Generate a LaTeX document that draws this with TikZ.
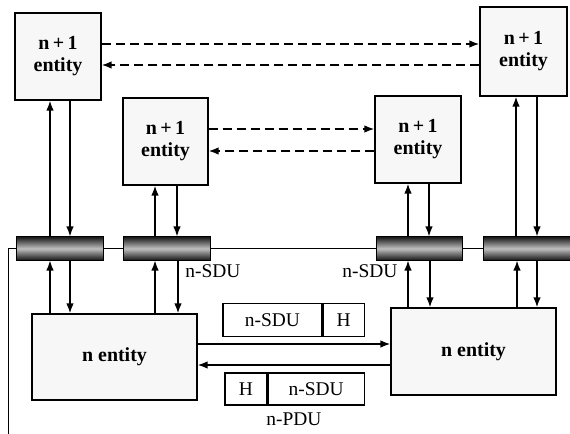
\documentclass[tikz,border=0pt]{standalone}
\usepackage{fontspec}
\setmainfont{Liberation Serif}
\usetikzlibrary{arrows.meta,calc}
\begin{document}
\begin{tikzpicture}[x=1bp,y=-1bp,
  ent/.style={draw=black,line width=1.2bp,fill=gray!6,inner sep=0pt,align=center,
    font=\fontsize{20}{22}\selectfont\bfseries},
  sap/.style={draw=black,line width=1bp,inner sep=0pt,top color=black!90,bottom color=black!90,middle color=gray!50},
  cell/.style={draw=black,line width=1.1bp,fill=white,inner sep=0pt,font=\fontsize{19.5}{22}\selectfont},
  lbl/.style={font=\fontsize{19.5}{22}\selectfont,inner sep=0pt},
  arr/.style={line width=1.5bp,-{Latex[length=10bp,width=7.5bp]}},
  darr/.style={line width=1.6bp,dash pattern=on 9bp off 5bp,-{Latex[length=10bp,width=7.5bp]}},
  ln/.style={line width=1bp}]
\useasboundingbox (0,0) rectangle (570,434);
% n+1 entities
\node[ent,minimum width=86bp,minimum height=87bp] (A) at (58,56.5) {n\,+\,1\\entity};
\node[ent,minimum width=85bp,minimum height=87bp] (B) at (165.5,141.5) {n\,+\,1\\entity};
\node[ent,minimum width=86bp,minimum height=87bp] (C) at (418,139.5) {n\,+\,1\\entity};
\node[ent,minimum width=87bp,minimum height=89bp] (D) at (523.5,51.5) {n\,+\,1\\entity};
% service line and SAPs
\coordinate (L0) at (8,248.5);
\coordinate (Lb) at (8,434);
\node[sap,minimum width=86bp,minimum height=23bp] (S1) at (60,248.5) {};
\node[sap,minimum width=87bp,minimum height=23bp] (S2) at (166.5,248.5) {};
\node[sap,minimum width=86bp,minimum height=23bp] (S3) at (419,248.5) {};
\node[sap,minimum width=87bp,minimum height=23bp] (S4) at (527,248.5) {};
\draw[ln] (Lb) -- (L0) -- (S1.west);
\draw[ln] (S1.east) -- (S2.west);
\draw[ln] (S2.east) -- (S3.west);
\draw[ln] (S3.east) -- (S4.west);
% n entities
\node[ent,minimum width=165bp,minimum height=86bp] (E1) at (114.5,357) {n entity};
\node[ent,minimum width=165bp,minimum height=87bp] (E2) at (473.5,351.5) {n entity};
% PDU cells
\node[cell,minimum width=99bp,minimum height=33bp] (P1) at (272.5,320) {n-SDU};
\node[cell,minimum width=41bp,minimum height=33bp,anchor=west] (H1) at (P1.east) {H};
\node[cell,minimum width=42bp,minimum height=32bp] (H2) at (246,389) {H};
\node[cell,minimum width=96bp,minimum height=32bp,anchor=west] (P2) at (H2.east) {n-SDU};
\node[lbl] (PDU) at (294,419) {n-PDU};
\node[lbl] (SDU1) at (213,271) {n-SDU};
\node[lbl] (SDU2) at (370,271) {n-SDU};
% dashed peer arrows
\draw[darr] (A.east |- 0,44) -- (D.west |- 0,44);
\draw[darr] (D.west |- 0,65) -- (A.east |- 0,65);
\draw[darr] (B.east |- 0,129) -- (C.west |- 0,129);
\draw[darr] (C.west |- 0,151) -- (B.east |- 0,151);
% vertical arrows upper
\draw[arr] (S1.north -| 50,0) -- (A.south -| 50,0);
\draw[arr] (A.south -| 70,0) -- (S1.north -| 70,0);
\draw[arr] (S2.north -| 155,0) -- (B.south -| 155,0);
\draw[arr] (B.south -| 177,0) -- (S2.north -| 177,0);
\draw[arr] (S3.north -| 408,0) -- (C.south -| 408,0);
\draw[arr] (C.south -| 429,0) -- (S3.north -| 429,0);
\draw[arr] (S4.north -| 516,0) -- (D.south -| 516,0);
\draw[arr] (D.south -| 537,0) -- (S4.north -| 537,0);
% vertical arrows lower
\draw[arr] (E1.north -| 50,0) -- (S1.south -| 50,0);
\draw[arr] (S1.south -| 70,0) -- (E1.north -| 70,0);
\draw[arr] (E1.north -| 155,0) -- (S2.south -| 155,0);
\draw[arr] (S2.south -| 178,0) -- (E1.north -| 178,0);
\draw[arr] (E2.north -| 408,0) -- (S3.south -| 408,0);
\draw[arr] (S3.south -| 430,0) -- (E2.north -| 430,0);
\draw[arr] (E2.north -| 517,0) -- (S4.south -| 517,0);
\draw[arr] (S4.south -| 537,0) -- (E2.north -| 537,0);
% horizontal arrows
\draw[arr] (E1.east |- 0,344) -- (E2.west |- 0,344);
\draw[arr] (E2.west |- 0,365) -- (E1.east |- 0,365);
\end{tikzpicture}
\end{document}
